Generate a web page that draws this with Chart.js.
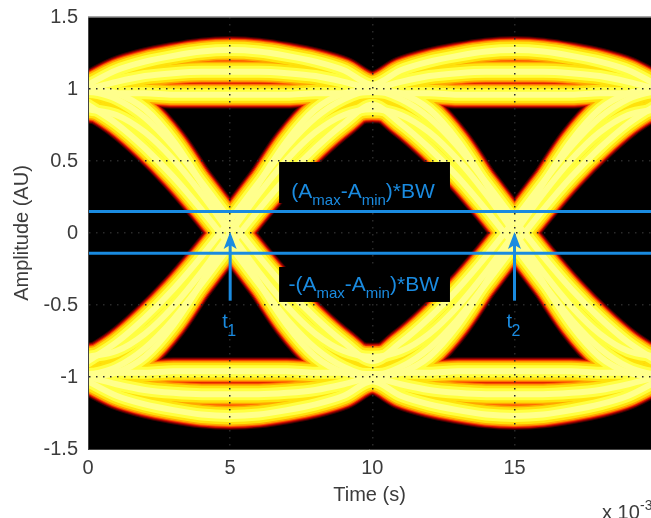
<!DOCTYPE html>
<html>
<head>
<meta charset="utf-8">
<script src="https://cdn.jsdelivr.net/npm/chart.js@4.4.0/dist/chart.umd.min.js"></script>
<style>
html,body{margin:0;padding:0;background:#fff;overflow:hidden;}
#wrap{width:651px;height:518px;position:relative;}
</style>
</head>
<body>
<div id="wrap"><canvas id="eyeChart"></canvas></div>
<script>
// sample times (x 10^-3 s)
const times=[0,1,2,3,4,5,6,7,8,9,10,11,12,13,14,15,16,17,18,19,20];

// eye traces, one value per sample time
const highHighA=[1.03,1.13,1.19,1.23,1.26,1.27,1.26,1.23,1.19,1.13,1.03,1.13,1.19,1.23,1.26,1.27,1.26,1.23,1.19,1.13,1.03];
const highHighB=[1.00,1.05,1.09,1.11,1.12,1.12,1.12,1.11,1.09,1.05,1.00,0.97,0.86,0.64,0.34,0.00,-0.34,-0.64,-0.86,-0.97,-1.00];
const highHighC=[0.98,0.97,0.97,0.96,0.96,0.96,0.96,0.96,0.97,0.97,0.98,0.97,0.97,0.96,0.96,0.96,0.96,0.96,0.97,0.97,0.98];
const riseEarly=[-0.89,-0.76,-0.59,-0.39,-0.16,0.09,0.35,0.60,0.80,0.93,0.99,0.93,0.80,0.60,0.35,0.09,-0.16,-0.39,-0.59,-0.76,-0.89];
const riseLate=[-0.99,-0.93,-0.80,-0.60,-0.35,-0.09,0.16,0.39,0.59,0.76,0.89,0.76,0.59,0.39,0.16,-0.09,-0.35,-0.60,-0.80,-0.93,-0.99];
const riseMid=[-1.00,-0.97,-0.86,-0.64,-0.34,0.00,0.34,0.64,0.86,0.97,1.00,1.05,1.09,1.11,1.12,1.12,1.12,1.11,1.09,1.05,1.00];
const riseSmall=[-0.86,-0.82,-0.70,-0.51,-0.27,0.00,0.27,0.51,0.70,0.82,0.86,0.82,0.70,0.51,0.27,0.00,-0.27,-0.51,-0.70,-0.82,-0.86];
const lowLowA=[-1.03,-1.13,-1.19,-1.23,-1.26,-1.27,-1.26,-1.23,-1.19,-1.13,-1.03,-1.13,-1.19,-1.23,-1.26,-1.27,-1.26,-1.23,-1.19,-1.13,-1.03];
const lowLowB=[-1.00,-1.05,-1.09,-1.11,-1.12,-1.12,-1.12,-1.11,-1.09,-1.05,-1.00,-0.97,-0.86,-0.64,-0.34,0.00,0.34,0.64,0.86,0.97,1.00];
const lowLowC=[-0.98,-0.97,-0.97,-0.96,-0.96,-0.96,-0.96,-0.96,-0.97,-0.97,-0.98,-0.97,-0.97,-0.96,-0.96,-0.96,-0.96,-0.96,-0.97,-0.97,-0.98];
const fallEarly=[0.89,0.76,0.59,0.39,0.16,-0.09,-0.35,-0.60,-0.80,-0.93,-0.99,-0.93,-0.80,-0.60,-0.35,-0.09,0.16,0.39,0.59,0.76,0.89];
const fallLate=[0.99,0.93,0.80,0.60,0.35,0.09,-0.16,-0.39,-0.59,-0.76,-0.89,-0.76,-0.59,-0.39,-0.16,0.09,0.35,0.60,0.80,0.93,0.99];
const fallMid=[1.00,0.97,0.86,0.64,0.34,0.00,-0.34,-0.64,-0.86,-0.97,-1.00,-1.05,-1.09,-1.11,-1.12,-1.12,-1.12,-1.11,-1.09,-1.05,-1.00];
const fallSmall=[0.86,0.82,0.70,0.51,0.27,0.00,-0.27,-0.51,-0.70,-0.82,-0.86,-0.82,-0.70,-0.51,-0.27,0.00,0.27,0.51,0.70,0.82,0.86];

const traces=[highHighA,highHighB,highHighC,riseEarly,riseLate,riseMid,riseSmall,
  lowLowA,lowLowB,lowLowC,fallEarly,fallLate,fallMid,fallSmall];

// threshold levels +/-(Amax-Amin)*BW
const thresholds=[0.15,-0.14];
// crossing instants t1, t2
const crossTimes=[5,15];
const crossNames=['1','2'];

const xTicks=[0,5,10,15];
const yTicks=[-1.5,-1,-0.5,0,0.5,1,1.5];

const FONT='"Liberation Sans", Arial, sans-serif';
const BLUE='#1a8be0';

// hot colour map glow, outer to inner
const glowWidths=[28,26,24,22,20,17,12,6];
const glowColors=['#3c0000','#8c0000','#d81400','#ff5c00','#ffa800','#ffe20c','#ffff40','#ffff8c'];

const datasets=[];
glowWidths.forEach((w,k)=>{
  traces.forEach(tr=>{
    datasets.push({
      data:times.map((t,i)=>({x:t,y:tr[i]})),
      borderColor:glowColors[k],
      borderWidth:w,
      pointRadius:0,
      cubicInterpolationMode:'monotone',
      borderCapStyle:'round',
      borderJoinStyle:'round',
      clip:0,
      order:20-k
    });
  });
});
thresholds.forEach(v=>{
  datasets.push({
    data:[{x:0,y:v},{x:20,y:v}],
    borderColor:BLUE,
    borderWidth:3,
    pointRadius:0,
    clip:0,
    order:0
  });
});

const boxNotes=[
  {x0:6.72,x1:12.73,y0:0.493,y1:0.208,tx:7.15,ty:0.245,prefix:'('},
  {x0:6.72,x1:12.73,y0:-0.236,y1:-0.479,tx:7.05,ty:-0.40,prefix:'-('}
];

function drawRich(ctx,parts,x,y){
  parts.forEach(p=>{
    ctx.font=(p.sub?'15px ':'21px ')+FONT;
    ctx.fillText(p.t,x,y+(p.sub?7:0));
    x+=ctx.measureText(p.t).width;
  });
}

const bgPlugin={
  id:'bg',
  beforeDatasetsDraw(chart){
    const {ctx,chartArea:a}=chart;
    ctx.save();
    ctx.fillStyle='#000';
    ctx.fillRect(a.left,a.top,a.right-a.left,a.bottom-a.top);
    ctx.restore();
  }
};

const notePlugin={
  id:'notes',
  afterDraw(chart){
    const {ctx,chartArea:a,scales:{x,y}}=chart;
    ctx.save();
    // top edge of the axes box
    ctx.strokeStyle='#8a8a8a';
    ctx.lineWidth=1.5;
    ctx.beginPath();
    ctx.moveTo(a.left,a.top);
    ctx.lineTo(a.right,a.top);
    ctx.stroke();

    // text boxes
    boxNotes.forEach(b=>{
      const px0=x.getPixelForValue(b.x0),px1=x.getPixelForValue(b.x1);
      const py0=y.getPixelForValue(b.y0),py1=y.getPixelForValue(b.y1);
      ctx.fillStyle='#000';
      ctx.fillRect(px0,py0,px1-px0,py1-py0);
      ctx.fillStyle=BLUE;
      ctx.textBaseline='alphabetic';
      ctx.textAlign='left';
      drawRich(ctx,[{t:b.prefix+'A'},{t:'max',sub:1},{t:'-A'},{t:'min',sub:1},{t:')*BW'}],
        x.getPixelForValue(b.tx),y.getPixelForValue(b.ty));
    });

    // arrows to the crossing points
    crossTimes.forEach((t,i)=>{
      const px=x.getPixelForValue(t);
      const tip=y.getPixelForValue(0)-1;
      const tail=y.getPixelForValue(-0.47);
      ctx.strokeStyle=BLUE;
      ctx.lineWidth=3;
      ctx.beginPath();
      ctx.moveTo(px,tail);
      ctx.lineTo(px,tip+10);
      ctx.stroke();
      ctx.fillStyle=BLUE;
      ctx.beginPath();
      ctx.moveTo(px,tip);
      ctx.lineTo(px+6.5,tip+17);
      ctx.lineTo(px,tip+13);
      ctx.lineTo(px-6.5,tip+17);
      ctx.closePath();
      ctx.fill();
      ctx.textAlign='left';
      ctx.font='20px '+FONT;
      ctx.fillText('t',px-8,tail+27);
      ctx.font='16px '+FONT;
      ctx.fillText(crossNames[i],px-3,tail+35);
    });

    // axis exponent
    ctx.fillStyle='#3c3c3c';
    ctx.font='20px '+FONT;
    ctx.textAlign='left';
    ctx.fillText('x 10',602,519);
    ctx.font='14px '+FONT;
    ctx.fillText('-3',640,510);
    ctx.restore();
  }
};

new Chart(document.getElementById('eyeChart'),{
  type:'line',
  data:{datasets:datasets},
  options:{
    responsive:true,
    maintainAspectRatio:false,
    animation:false,
    layout:{padding:{top:17,right:0,bottom:0,left:0}},
    plugins:{legend:{display:false},tooltip:{enabled:false}},
    scales:{
      x:{
        type:'linear',
        min:0,
        max:19.8,
        z:1,
        afterBuildTicks:s=>{s.ticks=xTicks.map(v=>({value:v}));},
        afterFit:s=>{s.height=69;s.paddingLeft=0;s.paddingRight=0;},
        grid:{z:1,color:c=>c.tick&&c.tick.value===0?'rgba(0,0,0,0)':'#2a2a2a',lineWidth:1.5,drawTicks:false},
        border:{z:1,display:true,color:'#444',width:1,dash:[1.5,5.5]},
        ticks:{color:'#3c3c3c',font:{size:20,family:FONT},padding:7,maxRotation:0,callback:v=>String(v)},
        title:{display:true,text:'Time (s)',color:'#3c3c3c',font:{size:20,family:FONT},padding:{top:0,bottom:11}}
      },
      y:{
        type:'linear',
        min:-1.5,
        max:1.5,
        z:1,
        afterBuildTicks:s=>{s.ticks=yTicks.map(v=>({value:v}));},
        afterFit:s=>{s.width=88;s.paddingTop=0;s.paddingBottom=0;},
        grid:{z:1,color:c=>c.tick&&Math.abs(c.tick.value)===1.5?'rgba(0,0,0,0)':'#2a2a2a',lineWidth:1.5,drawTicks:false},
        border:{z:1,display:true,color:'#444',width:1,dash:[1.5,5.5]},
        ticks:{color:'#3c3c3c',font:{size:20,family:FONT},padding:10,callback:v=>String(v)},
        title:{display:true,text:'Amplitude (AU)',color:'#3c3c3c',font:{size:20,family:FONT},padding:{top:10,bottom:0}}
      }
    }
  },
  plugins:[bgPlugin,notePlugin]
});
</script>
</body>
</html>
